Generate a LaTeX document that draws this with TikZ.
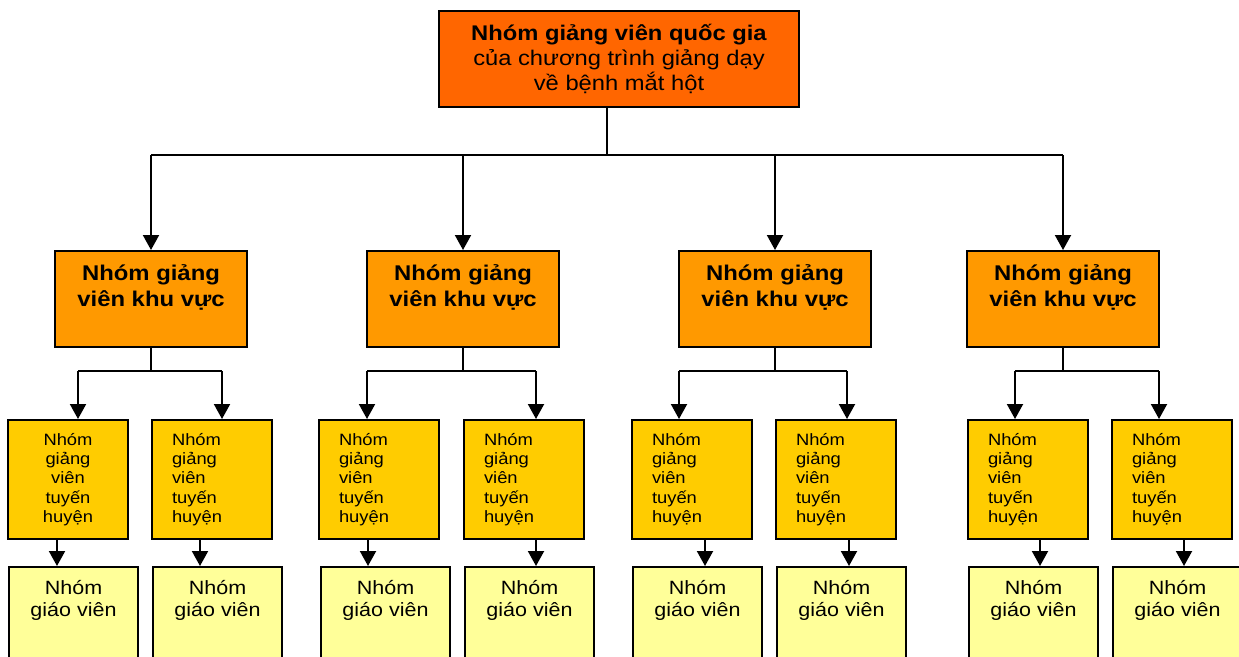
\documentclass[tikz,border=0pt]{standalone}
\usepackage{fontspec}
\setmainfont[FakeStretch=1.12]{Liberation Sans}
\usetikzlibrary{arrows.meta}

\definecolor{natorange}{HTML}{FF6600}
\definecolor{regorange}{HTML}{FF9900}
\definecolor{distyellow}{HTML}{FFCC00}
\definecolor{teachyellow}{HTML}{FFFF99}

\begin{document}
\begin{tikzpicture}[x=1pt,y=-1pt,
    box/.style={draw=black,line width=2pt,inner sep=0pt},
    national/.style={box,fill=natorange,minimum width=360pt,minimum height=96pt,
        align=center,font=\fontsize{21.2}{25}\selectfont},
    regional/.style={box,fill=regorange,minimum width=192pt,minimum height=96pt,
        label={[font=\bfseries\fontsize{21.3}{26}\selectfont,align=center,anchor=north,
        inner sep=0pt,yshift=-14pt]north:{Nhóm giảng\\viên khu vực}}},
    district/.style={box,fill=distyellow,minimum width=120pt,minimum height=119pt,
        text width=80pt,inner xsep=20pt,font=\fontsize{16.4}{19.2}\selectfont},
    teacher/.style={box,fill=teachyellow,minimum width=129pt,minimum height=130pt,
        label={[font=\fontsize{19.2}{22}\selectfont,align=center,anchor=north,
        inner sep=0pt,yshift=-14pt]north:{Nhóm\\giáo viên}}},
    link/.style={line width=2pt},
    arr/.style={link,-{Triangle[length=15pt,width=16pt]}}]

    \useasboundingbox (0,0) rectangle (1239,656);
    \clip (0,0) rectangle (1239,656);

    \node[national] (nat) at (619,59) {\textbf{Nhóm giảng viên quốc gia}\\của chương trình giảng dạy\\về bệnh mắt hột};

    \coordinate (hub) at (607,155);
    \coordinate (barL) at (151,155);
    \coordinate (barR) at (1063,155);
    \draw[link] (nat.south -| hub) -- (hub);
    \draw[link] (barL) -- (barR);

    % one group per region
    \foreach \g/\xr/\ax/\bx/\da/\db/\ta/\tb/\ea/\eb/\al in
        {1/151/78/222/7/151/57/200/8/152/center,
         2/463/367/536/318/463/368/536/320/464/left,
         3/775/679/847/631/775/705/849/632/776/left,
         4/1063/1015/1159/967/1111/1040/1184/968/1112/left}{
        \node[regional] (r\g) at (\xr,299) {};
        \draw[arr] (r\g.north |- hub) -- (r\g.north);

        \node[district,align=\al,anchor=north west] (da\g) at (\da,419) {Nhóm\\giảng\\viên\\tuyến\\huyện};
        \node[district,align=left,anchor=north west] (db\g) at (\db,419) {Nhóm\\giảng\\viên\\tuyến\\huyện};

        \coordinate (s\g) at (\xr,371);
        \coordinate (ka\g) at (\ax,371);
        \coordinate (kb\g) at (\bx,371);
        \draw[link] (r\g.south) -- (s\g);
        \draw[link] (ka\g) -- (kb\g);
        \draw[arr] (ka\g) -- (ka\g |- da\g.north);
        \draw[arr] (kb\g) -- (kb\g |- db\g.north);

        \node[teacher,anchor=north west] (ta\g) at (\ea,566) {};
        \node[teacher,anchor=north west] (tb\g) at (\eb,566) {};
        \draw[arr] (da\g.south -| \ta,0) -- (ta\g.north -| \ta,0);
        \draw[arr] (db\g.south -| \tb,0) -- (tb\g.north -| \tb,0);
    }
\end{tikzpicture}
\end{document}
